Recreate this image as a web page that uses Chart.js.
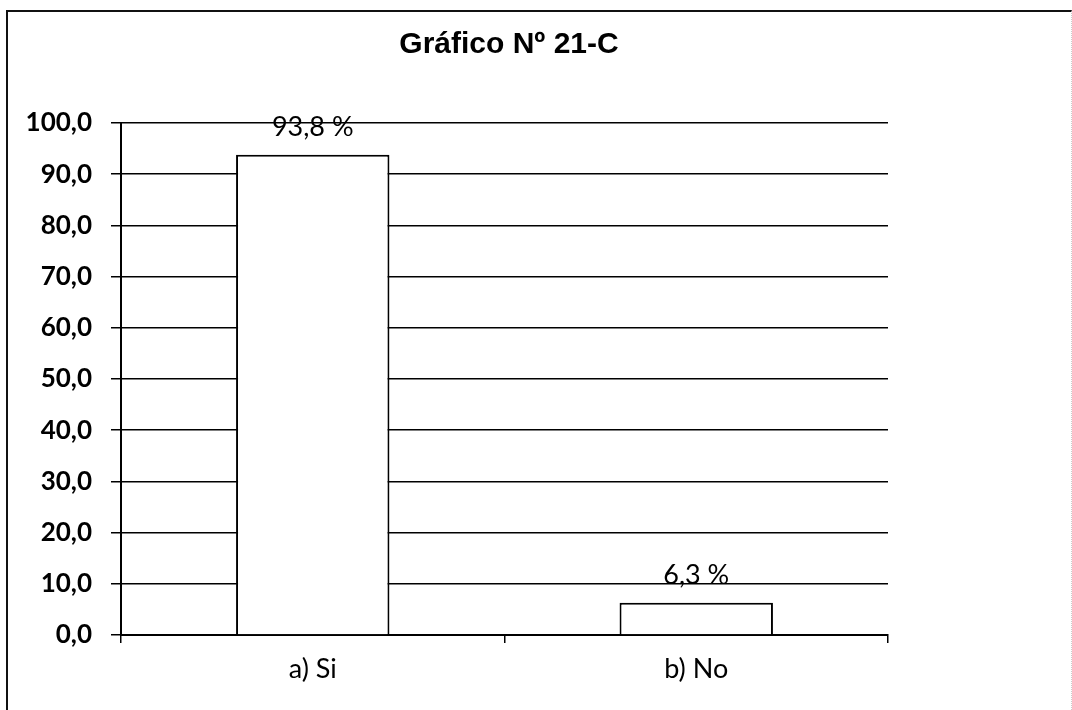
<!DOCTYPE html>
<html lang="es">
<head>
    <meta charset="utf-8">
    <title>Gráfico Nº 21-C</title>
    <script src="https://cdn.jsdelivr.net/npm/chart.js@4/dist/chart.umd.min.js"></script>
    <style>
        body { margin: 0; background: #fff; }
        #wrap { position: relative; width: 1072px; height: 710px; overflow: hidden; }
        #chart { position: absolute; left: 0; top: 0; }
        #frame {
            position: absolute; left: 6px; top: 10px; width: 1063px; height: 720px;
            border-left: 2px solid #111; border-top: 2px solid #111;
            border-right: 1px dotted #ccc;
            pointer-events: none;
        }
    </style>
</head>
<body>

<div id="wrap">
    <canvas id="chart" width="1072" height="710"></canvas>
    <div id="frame"></div>
</div>

<script>
var categories = ['a) Si', 'b) No'];
var percentages = [93.8, 6.3];
var yTicks = { min: 0, max: 100, step: 10 };

function comma(v) {
    return v.toFixed(1).replace('.', ',');
}

// value labels over each bar
var barLabels = {
    id: 'barLabels',
    afterDatasetsDraw: function(chart) {
        var ctx = chart.ctx;
        var meta = chart.getDatasetMeta(0);
        ctx.save();
        ctx.font = '27px Lato';
        ctx.fillStyle = '#000';
        ctx.textAlign = 'center';
        ctx.textBaseline = 'middle';
        meta.data.forEach(function(bar, i) {
            ctx.fillText(comma(percentages[i]) + ' %', bar.x, bar.y - 27);
        });
        ctx.restore();
    }
};

var ctx = document.getElementById('chart').getContext('2d');
var myChart = new Chart(ctx, {
    type: 'bar',
    data: {
        labels: categories,
        datasets: [{
            data: percentages,
            backgroundColor: '#fff',
            borderColor: '#000',
            borderWidth: 2,
            categoryPercentage: 1,
            barPercentage: 0.4
        }]
    },
    options: {
        responsive: false,
        animation: false,
        layout: { padding: { left: 0, right: 54, top: 0, bottom: 0 } },
        plugins: {
            legend: { display: false },
            tooltip: { enabled: false },
            title: {
                display: true,
                text: 'Gráfico Nº 21-C',
                color: '#000',
                font: { family: 'Liberation Sans', size: 30, weight: 'bold', lineHeight: 1.2 },
                padding: { top: 27, bottom: 60 }
            }
        },
        scales: {
            x: {
                offset: true,
                grid: {
                    offset: true,
                    drawOnChartArea: false,
                    drawTicks: true,
                    tickLength: 8,
                    color: '#000',
                    lineWidth: 1.5
                },
                border: { display: true, color: '#000', width: 2 },
                ticks: {
                    color: '#000',
                    padding: 10,
                    font: { family: 'Lato', size: 27 }
                },
                afterFit: function(scale) { scale.height = 75; }
            },
            y: {
                min: yTicks.min,
                max: yTicks.max,
                grid: {
                    color: '#000',
                    lineWidth: 1.5,
                    drawTicks: true,
                    tickLength: 10
                },
                border: { display: true, color: '#000', width: 2 },
                ticks: {
                    stepSize: yTicks.step,
                    color: '#000',
                    padding: 19,
                    font: { family: 'Lato', size: 26, weight: 'bold' },
                    callback: function(value) { return comma(value); }
                },
                afterFit: function(scale) { scale.width = 121; }
            },
            // empty right-hand strip so the plot stops short of the frame
            side: {
                type: 'linear',
                position: 'right',
                display: true,
                grid: { display: false, drawTicks: false },
                border: { display: false },
                ticks: { display: false },
                afterFit: function(scale) { scale.width = 130; }
            }
        }
    },
    plugins: [barLabels]
});
</script>

</body>
</html>
